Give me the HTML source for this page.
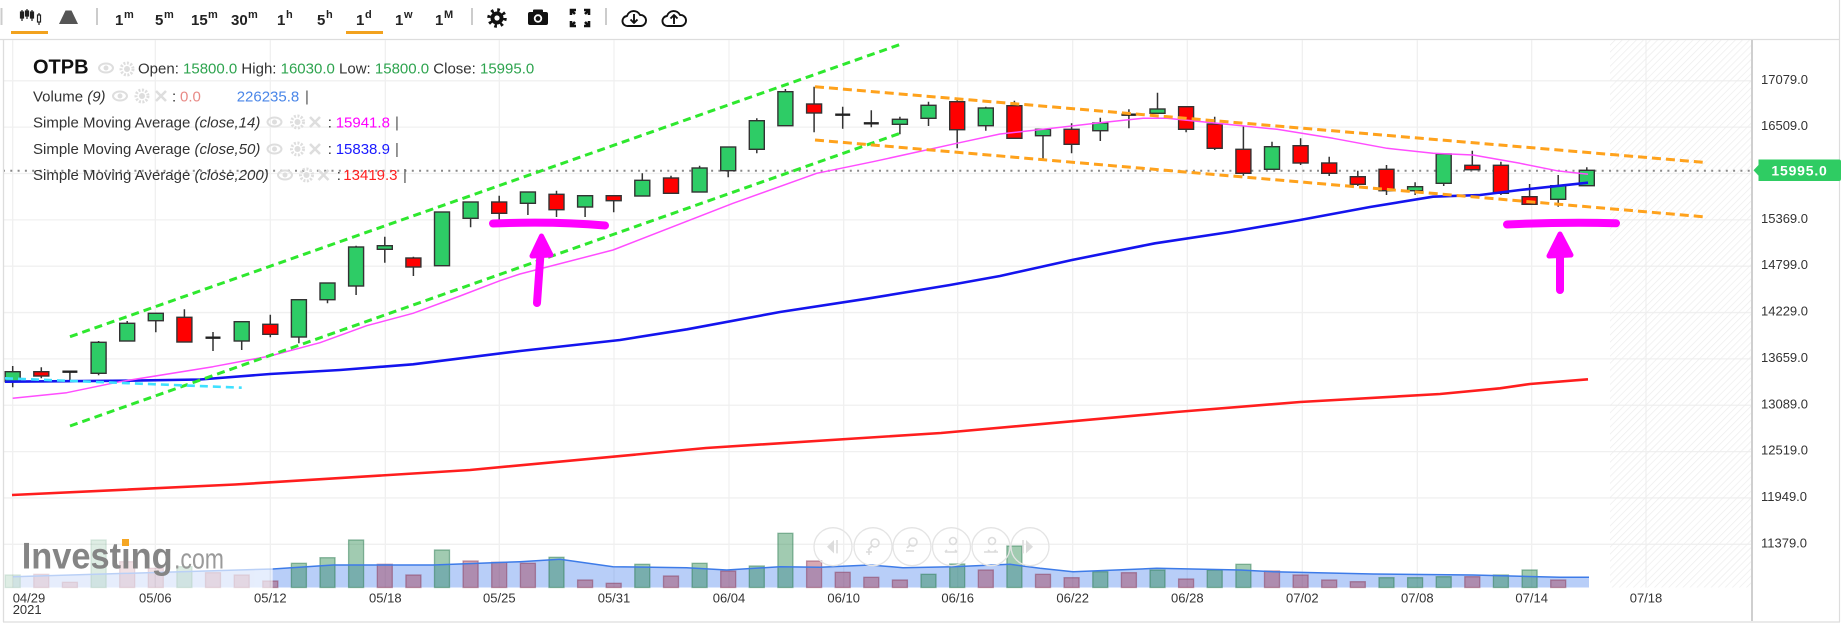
<!DOCTYPE html>
<html><head><meta charset="utf-8"><style>
html,body{margin:0;padding:0;background:#fff;width:1844px;height:627px;overflow:hidden}
svg{display:block;font-family:"Liberation Sans",Arial,sans-serif}
</style></head><body>
<svg width="1844" height="627" viewBox="0 0 1844 627" xmlns="http://www.w3.org/2000/svg" xmlns:xlink="http://www.w3.org/1999/xlink">
<defs>
<pattern id="hatch" width="5" height="5" patternUnits="userSpaceOnUse" patternTransform="rotate(45)"><line x1="0" y1="0" x2="0" y2="5" stroke="#ececec" stroke-width="1.4"/></pattern>
<clipPath id="cA"><rect x="0" y="450" width="272.7" height="140"/></clipPath>
<clipPath id="cB"><rect x="272.7" y="450" width="1480" height="140"/></clipPath>
<g id="vol">
<path d="M13,587.5 L13,576.7 L272.7,569 L333,565 L433,565 L520,561.7 L560,559.3 L613,566.7 L686.7,567.7 L726.7,570 L780,566.7 L820,567.3 L870,565 L903,567.7 L953,566.7 L1010,564.3 L1040,568.3 L1073,571.7 L1156.7,568.3 L1240,570 L1273,571.7 L1373,574 L1473,575 L1560,577.3 L1589,577.3 L1589,587.5 Z" fill="#4d85ee" fill-opacity="0.4"/>
<g fill="#1e8246" fill-opacity="0.42" stroke="#2a7a50" stroke-opacity="0.5" stroke-width="1.3">
<rect x="5.2" y="575" width="15" height="12.5"/><rect x="91.1" y="540" width="15" height="47.5"/><rect x="176.9" y="566.7" width="15" height="20.8"/><rect x="291.4" y="563.3" width="15" height="24.2"/><rect x="320" y="557.7" width="15" height="29.8"/><rect x="348.6" y="540" width="15" height="47.5"/><rect x="434.5" y="550" width="15" height="37.5"/><rect x="549" y="557.3" width="15" height="30.2"/><rect x="634.8" y="564.3" width="15" height="23.2"/><rect x="692.1" y="563.3" width="15" height="24.2"/><rect x="749.3" y="566" width="15" height="21.5"/><rect x="777.9" y="533.3" width="15" height="54.2"/><rect x="921" y="574.3" width="15" height="13.2"/><rect x="949.7" y="564" width="15" height="23.5"/><rect x="1006.9" y="546" width="15" height="41.5"/><rect x="1092.8" y="571.7" width="15" height="15.8"/><rect x="1150" y="570" width="15" height="17.5"/><rect x="1207.2" y="570" width="15" height="17.5"/><rect x="1235.9" y="564.3" width="15" height="23.2"/><rect x="1379" y="577.7" width="15" height="9.8"/><rect x="1407.6" y="577.7" width="15" height="9.8"/><rect x="1436.2" y="576.7" width="15" height="10.8"/><rect x="1493.4" y="575" width="15" height="12.5"/><rect x="1522.1" y="570" width="15" height="17.5"/>
</g>
<g fill="#a0324a" fill-opacity="0.42" stroke="#8a3a5a" stroke-opacity="0.5" stroke-width="1.3">
<rect x="33.8" y="574.3" width="15" height="13.2"/><rect x="62.4" y="582.3" width="15" height="5.2"/><rect x="119.7" y="561.7" width="15" height="25.8"/><rect x="148.3" y="568.3" width="15" height="19.2"/><rect x="205.5" y="572.7" width="15" height="14.8"/><rect x="234.2" y="575" width="15" height="12.5"/><rect x="262.8" y="581" width="15" height="6.5"/><rect x="377.3" y="564.3" width="15" height="23.2"/><rect x="405.9" y="575" width="15" height="12.5"/><rect x="463.1" y="561" width="15" height="26.5"/><rect x="491.7" y="562.3" width="15" height="25.2"/><rect x="520.4" y="563.3" width="15" height="24.2"/><rect x="577.6" y="580" width="15" height="7.5"/><rect x="606.2" y="583.3" width="15" height="4.2"/><rect x="663.5" y="576" width="15" height="11.5"/><rect x="720.7" y="571" width="15" height="16.5"/><rect x="806.6" y="561" width="15" height="26.5"/><rect x="835.2" y="572.3" width="15" height="15.2"/><rect x="863.8" y="577.3" width="15" height="10.2"/><rect x="892.4" y="580" width="15" height="7.5"/><rect x="978.3" y="570" width="15" height="17.5"/><rect x="1035.5" y="574.3" width="15" height="13.2"/><rect x="1064.1" y="577.7" width="15" height="9.8"/><rect x="1121.4" y="572.7" width="15" height="14.8"/><rect x="1178.6" y="579" width="15" height="8.5"/><rect x="1264.5" y="571" width="15" height="16.5"/><rect x="1293.1" y="575" width="15" height="12.5"/><rect x="1321.7" y="580" width="15" height="7.5"/><rect x="1350.3" y="581.7" width="15" height="5.8"/><rect x="1464.8" y="576.7" width="15" height="10.8"/><rect x="1550.7" y="580" width="15" height="7.5"/>
</g>
<path d="M13,576.7 L272.7,569 L333,565 L433,565 L520,561.7 L560,559.3 L613,566.7 L686.7,567.7 L726.7,570 L780,566.7 L820,567.3 L870,565 L903,567.7 L953,566.7 L1010,564.3 L1040,568.3 L1073,571.7 L1156.7,568.3 L1240,570 L1273,571.7 L1373,574 L1473,575 L1560,577.3 L1589,577.3" fill="none" stroke="#3d7be8" stroke-width="1.5"/>
</g>
</defs>

<!-- toolbar -->
<line x1="1.5" y1="8" x2="1.5" y2="25" stroke="#ccc" stroke-width="2"/>
<g fill="#222" stroke="#222" stroke-width="1.2">
<line x1="22" y1="10" x2="22" y2="21"/><rect x="20.5" y="12" width="3" height="6"/>
<line x1="27" y1="9" x2="27" y2="19"/><rect x="25.5" y="11" width="3" height="5"/>
<line x1="32" y1="10" x2="32" y2="21"/><rect x="30.5" y="12" width="3" height="6"/>
<line x1="39" y1="13" x2="39" y2="25"/><rect x="37.5" y="15" width="3" height="7" fill="#fff"/>
</g>
<rect x="11" y="31" width="37" height="3" fill="#f2a21e"/>
<polygon points="59,24 65.5,10.5 71.5,10.5 78,24" fill="#555"/>
<line x1="97" y1="8" x2="97" y2="25" stroke="#ccc" stroke-width="2"/>
<g font-weight="bold" fill="#222">
<text x="115" y="25" font-size="15">1</text><text x="124" y="18" font-size="11">m</text>
<text x="155" y="25" font-size="15">5</text><text x="164" y="18" font-size="11">m</text>
<text x="191" y="25" font-size="15">15</text><text x="208" y="18" font-size="11">m</text>
<text x="231" y="25" font-size="15">30</text><text x="248" y="18" font-size="11">m</text>
<text x="277" y="25" font-size="15">1</text><text x="286" y="18" font-size="11">h</text>
<text x="317" y="25" font-size="15">5</text><text x="326" y="18" font-size="11">h</text>
<text x="356" y="25" font-size="15">1</text><text x="365" y="18" font-size="11">d</text>
<text x="395" y="25" font-size="15">1</text><text x="404" y="18" font-size="11">w</text>
<text x="435" y="25" font-size="15">1</text><text x="444" y="18" font-size="11">M</text>
</g>
<rect x="346" y="31" width="37" height="3" fill="#f2a21e"/>
<line x1="472" y1="8" x2="472" y2="25" stroke="#ccc" stroke-width="2"/>
<!-- gear -->
<circle cx="497" cy="18" r="6.5" fill="#111"/>
<circle cx="497" cy="18" r="8" fill="none" stroke="#111" stroke-width="3.5" stroke-dasharray="2.6 3.68"/>
<circle cx="497" cy="18" r="2.6" fill="#fff"/>
<!-- camera -->
<rect x="528" y="12" width="20" height="13" rx="2" fill="#111"/>
<rect x="533" y="9.5" width="10" height="4" rx="1" fill="#111"/>
<circle cx="538" cy="18.5" r="4.2" fill="#fff"/><circle cx="538" cy="18.5" r="2.4" fill="#111"/>
<!-- fullscreen -->
<g stroke="#111" stroke-width="2.6" fill="none">
<path d="M571,15 V10 H576 M571,10 L575,14"/><path d="M589,15 V10 H584 M589,10 L585,14"/>
<path d="M571,21 V26 H576 M571,26 L575,22"/><path d="M589,21 V26 H584 M589,26 L585,22"/>
</g>
<line x1="606" y1="8" x2="606" y2="25" stroke="#ccc" stroke-width="2"/>
<!-- download / upload -->
<g stroke="#111" stroke-width="1.9" fill="none" stroke-linejoin="round">
<path d="M628,26 a5,5 0 0 1 -1,-10 a7,7 0 0 1 13,-1 a5.5,5.5 0 0 1 1,11 Z"/>
<path d="M634,14 V23 M630.5,19.5 L634,23 L637.5,19.5"/>
<path d="M668,26 a5,5 0 0 1 -1,-10 a7,7 0 0 1 13,-1 a5.5,5.5 0 0 1 1,11 Z"/>
<path d="M674,24 V15 M670.5,18.5 L674,15 L677.5,18.5"/>
</g>
<line x1="0" y1="39.5" x2="1840" y2="39.5" stroke="#ddd" stroke-width="1.2"/>
<line x1="1839.5" y1="0" x2="1839.5" y2="622" stroke="#ddd" stroke-width="1.2"/>

<!-- grid -->
<g stroke="#f0f0f0" stroke-width="1.3">
<path d="M3,80.8H1752 M3,127.15H1752 M3,173.5H1752 M3,219.85H1752 M3,266.2H1752 M3,312.55H1752 M3,358.9H1752 M3,405.25H1752 M3,451.6H1752 M3,497.95H1752 M3,544.3H1752"/>
<path d="M12.7,40V587.5 M155.3,40V587.5 M270.3,40V587.5 M385.3,40V587.5 M499.3,40V587.5 M614,40V587.5 M729,40V587.5 M843.7,40V587.5 M957.7,40V587.5 M1072.7,40V587.5 M1187.3,40V587.5 M1302.3,40V587.5 M1417.3,40V587.5 M1531.7,40V587.5 M1646,40V587.5"/>
</g>
<rect x="1610" y="40" width="142" height="547.5" fill="url(#hatch)"/>

<!-- volume -->
<use href="#vol" xlink:href="#vol" clip-path="url(#cA)" opacity="0.35"/>
<use href="#vol" xlink:href="#vol" clip-path="url(#cB)"/>

<!-- watermark -->
<text x="21.7" y="568.3" font-size="37" font-weight="bold" fill="#858585" textLength="151" lengthAdjust="spacingAndGlyphs">Investing</text>
<rect x="122" y="539" width="7" height="7" fill="#f5a623"/>
<text x="174" y="568.3" font-size="29" fill="#9a9a9a" textLength="50" lengthAdjust="spacingAndGlyphs">.com</text>

<!-- nav controls -->
<g fill="none" stroke="#e4e4e4" stroke-width="1.3">
<circle cx="833" cy="546.7" r="19"/><circle cx="873" cy="546.7" r="19"/><circle cx="912" cy="546.7" r="19"/><circle cx="951.5" cy="546.7" r="19"/><circle cx="991" cy="546.7" r="19"/><circle cx="1030" cy="546.7" r="19"/>
</g>
<g fill="#dcdcdc" stroke="#dcdcdc" stroke-width="1.6">
<polygon points="827,546.7 834,540 834,553.4" stroke="none"/><line x1="837" y1="540" x2="837" y2="553.4"/>
<circle cx="875" cy="543" r="4" fill="none"/><line x1="872" y1="546" x2="868" y2="550"/><path d="M866,552h6M869,549v6" fill="none"/>
<circle cx="913" cy="542" r="4" fill="none"/><line x1="910" y1="545" x2="907" y2="548"/><path d="M906,551h8" fill="none"/>
<circle cx="953" cy="541" r="3.5" fill="none"/><path d="M945,552h12M945,552l2,-2M957,552l-2,-2" fill="none"/>
<circle cx="992" cy="541" r="3.5" fill="none"/><path d="M984,552h14M990,552l-2,-2M994,552l2,-2" fill="none"/>
<polygon points="1033,546.7 1026,540 1026,553.4" stroke="none"/><line x1="1023" y1="540" x2="1023" y2="553.4"/>
</g>

<!-- dotted price line -->
<line x1="3" y1="170.7" x2="1752" y2="170.7" stroke="#8a8a8a" stroke-width="2" stroke-dasharray="2 5.3"/>

<!-- candles -->
<path stroke="#333" stroke-width="1.5" fill="none" d="M12.7 366V387.3 M41.3 367.3V378.3 M69.9 370.7V380 M98.6 341V375.3 M127.2 321V341 M155.8 312.7V332.3 M184.4 309.3V342 M213 332V351 M241.7 321V350 M270.3 314.7V337.3 M298.9 299.7V343.3 M327.5 283V303.3 M356.1 245.7V295 M384.8 236.7V262.7 M413.4 256.7V276 M442 212V265.7 M470.6 202V227.3 M499.2 195.7V220 M527.9 192V215 M556.5 190.7V217 M585.1 195.7V217 M613.7 195.7V212.3 M642.3 173.3V196 M671 175.7V193.3 M699.6 165.7V192 M728.2 147V177.3 M756.8 118.3V153.3 M785.4 89V125.7 M814.1 86.7V132.3 M842.7 106.7V128.7 M871.3 110.3V127.3 M899.9 116.7V134.3 M928.5 101.7V126 M957.2 98.3V148.3 M985.8 106.7V130.7 M1014.4 100.7V138.3 M1043 129.3V160 M1071.6 123.3V153.3 M1100.3 117.7V141 M1128.9 109.3V128.3 M1157.5 92.7V113.3 M1186.1 106.7V132.3 M1214.7 116.7V150 M1243.4 125.7V175.7 M1272 141.7V169.3 M1300.6 138.3V165 M1329.2 156.7V176 M1357.8 170.7V186 M1386.5 165V195 M1415.1 182.3V195 M1443.7 154V186 M1472.3 150.7V169.7 M1500.9 161.7V195 M1529.6 184V204.3 M1558.2 175V206.7 M1586.8 167.3V185.7"/>
<path stroke="#222" stroke-width="2.4" fill="none" d="M62.4 371.7H77.4 M205.5 337.7H220.5 M835.2 114.7H850.2 M863.8 123.3H878.8 M1121.4 114.7H1136.4"/>
<g fill="#2ecc66" stroke="#333" stroke-width="1.4">
<rect x="5.2" y="371.7" width="15" height="10"/><rect x="91.1" y="342.3" width="15" height="31"/><rect x="119.7" y="323.3" width="15" height="17.7"/><rect x="148.3" y="313.3" width="15" height="7.4"/><rect x="234.2" y="321.7" width="15" height="19.3"/><rect x="291.4" y="299.7" width="15" height="37.3"/><rect x="320" y="283" width="15" height="16.7"/><rect x="348.6" y="247" width="15" height="39"/><rect x="377.3" y="245.7" width="15" height="3.6"/><rect x="434.5" y="212" width="15" height="53.7"/><rect x="463.1" y="202" width="15" height="16.3"/><rect x="520.4" y="192" width="15" height="11.3"/><rect x="577.6" y="195.7" width="15" height="11.3"/><rect x="634.8" y="180.3" width="15" height="15.7"/><rect x="692.1" y="168" width="15" height="24"/><rect x="720.7" y="147" width="15" height="23.7"/><rect x="749.3" y="120.7" width="15" height="28.6"/><rect x="777.9" y="91.7" width="15" height="34"/><rect x="892.4" y="119.3" width="15" height="5"/><rect x="921" y="105.3" width="15" height="13"/><rect x="978.3" y="108" width="15" height="17.7"/><rect x="1035.5" y="129.3" width="15" height="6.4"/><rect x="1092.8" y="123" width="15" height="7.7"/><rect x="1150" y="109" width="15" height="4.3"/><rect x="1264.5" y="146.7" width="15" height="22.6"/><rect x="1407.6" y="186.7" width="15" height="4"/><rect x="1436.2" y="154" width="15" height="29.3"/><rect x="1550.7" y="185.7" width="15" height="13.6"/><rect x="1579.3" y="170.3" width="15" height="15.4"/>
</g>
<g fill="#ff0000" stroke="#333" stroke-width="1.4">
<rect x="33.8" y="371.7" width="15" height="4.3"/><rect x="176.9" y="317.3" width="15" height="24.7"/><rect x="262.8" y="324.3" width="15" height="10"/><rect x="405.9" y="258" width="15" height="9"/><rect x="491.7" y="202" width="15" height="11.3"/><rect x="549" y="194.3" width="15" height="15.4"/><rect x="606.2" y="195.7" width="15" height="5"/><rect x="663.5" y="178" width="15" height="15.3"/><rect x="806.6" y="104" width="15" height="9"/><rect x="949.7" y="101.7" width="15" height="28"/><rect x="1006.9" y="105.7" width="15" height="32.6"/><rect x="1064.1" y="129.3" width="15" height="15"/><rect x="1178.6" y="106.7" width="15" height="22.6"/><rect x="1207.2" y="124" width="15" height="24.3"/><rect x="1235.9" y="149.3" width="15" height="24"/><rect x="1293.1" y="145.7" width="15" height="17.3"/><rect x="1321.7" y="163" width="15" height="10.3"/><rect x="1350.3" y="176.7" width="15" height="7.6"/><rect x="1379" y="169.3" width="15" height="21.4"/><rect x="1464.8" y="165.3" width="15" height="4.4"/><rect x="1493.4" y="165.3" width="15" height="28"/><rect x="1522.1" y="196.7" width="15" height="7.6"/>
</g>

<!-- moving averages -->
<polyline fill="none" stroke="#ff1e1e" stroke-width="2.6" stroke-linejoin="round" points="12,495 235,484.5 470,470 706,448 941,433 1176,412 1300,402 1440,394 1500,388.3 1530,384 1588,379.3"/>
<polyline fill="none" stroke="#1414ee" stroke-width="2.6" stroke-linejoin="round" points="5,381.7 127,380.7 200,379.5 270,374 340,370 413,364.3 520,351 620,340 687,329.3 780,312 867,298.7 950,285 1000,276 1072,260 1155,243.3 1230,232 1300,220 1370,207 1433,196.7 1480,195 1520,190 1588,182.7"/>
<polyline fill="none" stroke="#ff4dff" stroke-width="1.5" stroke-linejoin="round" points="12.7,398.3 66.7,392.7 120,381.7 213,366.7 270,356 320,342.7 366.7,325.7 413,313.3 460,296 500,280.7 520,274 613,250 733,203.3 816.7,173.3 873,161.7 956.7,143.3 1000,134 1043,129.3 1100,122.7 1143,118.3 1167,118.3 1217,123.3 1277,129.3 1333,138.3 1387,148.3 1433,153.3 1473,155 1520,163.3 1556.7,170.7 1588,174.3"/>

<!-- drawn trend lines -->
<g fill="none" stroke-width="3" stroke-dasharray="8 5">
<line x1="70" y1="336.7" x2="900" y2="44.5" stroke="#2ee82e"/>
<line x1="70" y1="426" x2="900" y2="133.3" stroke="#2ee82e"/>
<line x1="5" y1="378.3" x2="241.7" y2="387.7" stroke="#3fe0ff" stroke-width="2.6"/>
<line x1="815" y1="86.7" x2="1702.7" y2="162.3" stroke="#ffa21c" stroke-dasharray="9 5"/>
<line x1="815" y1="140" x2="1702.7" y2="216.7" stroke="#ffa21c" stroke-dasharray="9 5"/>
</g>

<!-- magenta annotations -->
<g stroke="#ff00ff" stroke-width="8" stroke-linecap="round" stroke-linejoin="round" fill="#ff00ff">
<path d="M493,223.5 C530,222 570,222.5 605,225.5" fill="none"/>
<path d="M537,303 L541.5,240" fill="none"/>
<polygon points="532,256 541.5,236 551,255" stroke-width="5"/>
<path d="M1507,224.5 C1550,222.5 1590,222.5 1616,223.3" fill="none"/>
<path d="M1560,290 L1560,238" fill="none"/>
<polygon points="1549,256 1560,234 1571,255" stroke-width="5"/>
</g>

<!-- legend -->
<g fill="#333" font-size="15">
<text x="33" y="73.3" font-size="20" font-weight="bold" fill="#111">OTPB</text>
<text x="138" y="73.5"><tspan>Open: </tspan><tspan fill="#2ea44f">15800.0</tspan><tspan> High: </tspan><tspan fill="#2ea44f">16030.0</tspan><tspan> Low: </tspan><tspan fill="#2ea44f">15800.0</tspan><tspan> Close: </tspan><tspan fill="#2ea44f">15995.0</tspan></text>
<text x="33" y="101.5">Volume <tspan font-style="italic">(9)</tspan></text>
<text x="172" y="101.5">:</text><text x="180" y="101.5" fill="#e88a86">0.0</text><text x="236.7" y="101.5" fill="#4a86e8">226235.8</text><text x="305" y="101.5" fill="#555">|</text>
<text x="33" y="127.5">Simple Moving Average <tspan font-style="italic">(close,14)</tspan></text>
<text x="327.7" y="127.5">:</text><text x="335.7" y="127.5" fill="#ff00ff">15941.8</text><text x="395" y="127.5" fill="#555">|</text>
<text x="33" y="154">Simple Moving Average <tspan font-style="italic">(close,50)</tspan></text>
<text x="327.7" y="154">:</text><text x="335.7" y="154" fill="#1a1aff">15838.9</text><text x="395" y="154" fill="#555">|</text>
<text x="33" y="180">Simple Moving Average <tspan font-style="italic">(close,200)</tspan></text>
<text x="336.7" y="180">:</text><text x="343.3" y="180" fill="#ff2020">13419.3</text><text x="403" y="180" fill="#555">|</text>
</g>
<!-- legend icons -->
<g fill="none" stroke="#dedede" stroke-width="2">
<ellipse cx="106" cy="68" rx="7" ry="4.5"/><ellipse cx="120" cy="96" rx="7" ry="4.5"/><ellipse cx="274.5" cy="122" rx="7" ry="4.5"/><ellipse cx="274.5" cy="149" rx="7" ry="4.5"/><ellipse cx="285" cy="175" rx="7" ry="4.5"/>
<circle cx="127" cy="69" r="6" stroke-width="3" stroke-dasharray="2 1.5"/><circle cx="142" cy="96" r="6" stroke-width="3" stroke-dasharray="2 1.5"/><circle cx="297.5" cy="122" r="6" stroke-width="3" stroke-dasharray="2 1.5"/><circle cx="297.5" cy="149" r="6" stroke-width="3" stroke-dasharray="2 1.5"/><circle cx="306.5" cy="175" r="6" stroke-width="3" stroke-dasharray="2 1.5"/>
<path stroke-width="2.6" d="M156,91 l10,10 M166,91 l-10,10 M310,117 l10,10 M320,117 l-10,10 M310,144 l10,10 M320,144 l-10,10 M318.5,170 l10,10 M328.5,170 l-10,10"/>
</g>
<g fill="#dedede">
<circle cx="106" cy="68" r="2.5"/><circle cx="120" cy="96" r="2.5"/><circle cx="274.5" cy="122" r="2.5"/><circle cx="274.5" cy="149" r="2.5"/><circle cx="285" cy="175" r="2.5"/>
<circle cx="127" cy="69" r="3"/><circle cx="142" cy="96" r="3"/><circle cx="297.5" cy="122" r="3"/><circle cx="297.5" cy="149" r="3"/><circle cx="306.5" cy="175" r="3"/>
</g>

<!-- price axis -->
<line x1="1752" y1="40" x2="1752" y2="621" stroke="#cfcfcf" stroke-width="2"/>
<g fill="#333" font-size="13">
<text x="1761" y="83.8">17079.0</text>
<text x="1761" y="130.2">16509.0</text>
<text x="1761" y="222.9">15369.0</text>
<text x="1761" y="269.2">14799.0</text>
<text x="1761" y="315.6">14229.0</text>
<text x="1761" y="361.9">13659.0</text>
<text x="1761" y="408.3">13089.0</text>
<text x="1761" y="454.6">12519.0</text>
<text x="1761" y="501">11949.0</text>
<text x="1761" y="547.3">11379.0</text>
</g>
<path d="M1753.5,170.3 L1758.5,165 L1758.5,159.5 L1839,159.5 Q1841,159.5 1841,161.5 L1841,179 Q1841,181 1839,181 L1758.5,181 L1758.5,175.6 Z" fill="#2fcc63"/>
<text x="1799.5" y="175.6" font-size="14" font-weight="bold" fill="#fff" text-anchor="middle" letter-spacing="0.8">15995.0</text>

<!-- date axis -->
<g fill="#333" font-size="13">
<text x="12.7" y="602.5">04/29</text>
<text x="12.7" y="614">2021</text>
<g text-anchor="middle">
<text x="155.3" y="602.5">05/06</text><text x="270.3" y="602.5">05/12</text><text x="385.3" y="602.5">05/18</text><text x="499.3" y="602.5">05/25</text><text x="614" y="602.5">05/31</text><text x="729" y="602.5">06/04</text><text x="843.7" y="602.5">06/10</text><text x="957.7" y="602.5">06/16</text><text x="1072.7" y="602.5">06/22</text><text x="1187.3" y="602.5">06/28</text><text x="1302.3" y="602.5">07/02</text><text x="1417.3" y="602.5">07/08</text><text x="1531.7" y="602.5">07/14</text><text x="1646" y="602.5">07/18</text>
</g>
</g>

<!-- frame -->
<line x1="3.5" y1="40" x2="3.5" y2="622" stroke="#ddd" stroke-width="1.3"/>
<line x1="3" y1="622" x2="1840" y2="622" stroke="#ddd" stroke-width="1.3"/>
</svg>
</body></html>
